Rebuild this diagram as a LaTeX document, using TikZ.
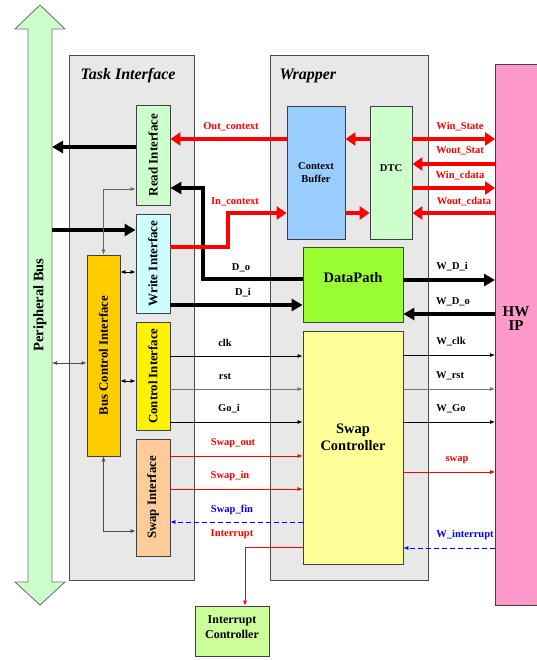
\documentclass[tikz,border=0pt]{standalone}
\usepackage{fontspec}
\setmainfont{Liberation Serif}
\usetikzlibrary{arrows.meta,calc}
\definecolor{cont}{HTML}{E8E8E8}
\definecolor{busg}{HTML}{CCFFCC}
\definecolor{hwpink}{HTML}{FF99CC}
\definecolor{cyanish}{HTML}{CCFFFF}
\definecolor{bcorange}{HTML}{FFCC00}
\definecolor{swapor}{HTML}{FFCC99}
\definecolor{cbblue}{HTML}{99CCFF}
\definecolor{dpgreen}{HTML}{99FF33}
\definecolor{scyellow}{HTML}{FFFF99}
\definecolor{icgreen}{HTML}{CCFF99}
\definecolor{redc}{HTML}{FF0000}
\definecolor{bluec}{HTML}{0000FF}
\begin{document}
\begin{tikzpicture}[x=1pt,y=-1pt,
  container/.style={draw=black!70,line width=0.9pt,fill=cont,anchor=north west,inner sep=0pt},
  blk/.style={draw=black!75,line width=0.9pt,inner sep=0pt,align=center,font=\bfseries},
  lab/.style={font=\fontsize{10.5}{12}\selectfont\bfseries},
  thk/.style={line width=3.6pt,-{Triangle[length=11pt,width=12pt]}},
  thkred/.style={draw=redc,line width=4.6pt,-{Triangle[length=10pt,width=13pt]}},
  thin/.style={line width=0.7pt,-{Latex[length=5pt,width=4pt]}},
  thinb/.style={line width=0.7pt,{Latex[length=5pt,width=4pt]}-{Latex[length=5pt,width=4pt]}},
]
\useasboundingbox (0,0) rectangle (536,660);
% containers
\node[container,minimum width=125,minimum height=525] (ti) at (69,55) {};
\node[container,minimum width=158,minimum height=525] (wr) at (270,55) {};
\node[anchor=west,font=\fontsize{16}{18}\selectfont\bfseries\itshape] (tit) at (77,76) {Task Interface};
\node[anchor=west,font=\fontsize{16}{18}\selectfont\bfseries\itshape] (wrt) at (276,76) {Wrapper};
% HW IP
\node[blk,fill=hwpink,anchor=north west,minimum width=46,minimum height=541] (hw) at (495,64) {};
\node[font=\fontsize{15}{16}\selectfont\bfseries,align=center] (hwt) at (516,319) {HW\\[-2pt]IP};
% peripheral bus
\draw[draw=black!55,line width=0.9pt,fill=busg]
  (40,5) -- (65,29) -- (52,29) -- (52,582) -- (65,582) -- (40,605) -- (15,582) -- (28,582) -- (28,29) -- (15,29) -- cycle;
\node[rotate=90,font=\fontsize{14.5}{16}\selectfont\bfseries] (bus) at (40,305) {Peripheral Bus};
\coordinate (busR) at (52,0);
% task interface blocks
\node[blk,fill=busg,minimum width=34,minimum height=100] (ri) at (153,155) {\rotatebox{90}{\fontsize{13}{14}\selectfont Read Interface}};
\node[blk,fill=cyanish,minimum width=34,minimum height=99] (wi) at (153,263.5) {\rotatebox{90}{\fontsize{13}{14}\selectfont Write Interface}};
\node[blk,fill=bcorange,minimum width=33,minimum height=201] (bci) at (103.5,355.5) {\rotatebox{90}{\fontsize{12.8}{14}\selectfont Bus Control Interface}};
\node[blk,fill=yellow,minimum width=34,minimum height=108] (ci) at (153,376) {\rotatebox{90}{\fontsize{12.8}{14}\selectfont Control Interface}};
\node[blk,fill=swapor,minimum width=34,minimum height=117] (si) at (153,497.5) {\rotatebox{90}{\fontsize{12.8}{14}\selectfont Swap Interface}};
% wrapper blocks
\node[blk,fill=cbblue,minimum width=58,minimum height=133,font=\fontsize{10.5}{12.5}\selectfont\bfseries] (cb) at (316,172.5) {Context\\Buffer};
\node[blk,fill=busg,minimum width=42,minimum height=133,font=\fontsize{10.5}{12}\selectfont\bfseries] (dtc) at (391,172.5) {};
\node[font=\fontsize{10.5}{12}\selectfont\bfseries] (dtct) at (391,168) {DTC};
\node[blk,fill=dpgreen,minimum width=100,minimum height=75] (dp) at (353,284.5) {};
\node[font=\fontsize{14.5}{16}\selectfont\bfseries] (dpt) at (353,278) {DataPath};
\node[blk,fill=scyellow,minimum width=100,minimum height=233] (sc) at (353,447.5) {};
\node[font=\fontsize{14.5}{17}\selectfont\bfseries,align=center] (sct) at (353,437) {Swap\\Controller};
\node[blk,fill=icgreen,minimum width=74,minimum height=50] (ic) at (232,631) {};
\node[font=\fontsize{12}{15}\selectfont\bfseries,align=center] (ict) at (232,627.5) {Interrupt\\Controller};
% thick black
\draw[thk] (ri.west |- 0,147) -- (busR |- 0,147);
\draw[thk] (busR |- 0,230) -- (wi.west |- 0,230);
\draw[thk] (dp.west |- 0,279) -- (203,279) -- (203,188) -- (ri.east |- 0,188);
\draw[thk] (wi.east |- 0,305) -- (dp.west |- 0,305);
\draw[thk] (dp.east |- 0,280) -- (hw.west |- 0,280);
\draw[thk] (hw.west |- 0,314) -- (dp.east |- 0,314);
% thick red
\draw[thkred] (cb.west |- 0,139) -- (ri.east |- 0,139);
\draw[thkred] (wi.east |- 0,247) -- (228,247) -- (228,213) -- (cb.west |- 0,213);
\draw[thkred] (dtc.west |- 0,139) -- (cb.east |- 0,139);
\draw[thkred] (cb.east |- 0,213) -- (dtc.west |- 0,213);
\draw[thkred] (dtc.east |- 0,139) -- (hw.west |- 0,139);
\draw[thkred] (hw.west |- 0,164) -- (dtc.east |- 0,164);
\draw[thkred] (dtc.east |- 0,188) -- (hw.west |- 0,188);
\draw[thkred] (hw.west |- 0,213) -- (dtc.east |- 0,213);
% thin bus control
\draw[thinb,draw=black!60] (bci.north) -- (bci.north |- 0,189) -- (ri.west |- 0,189);
\draw[thinb] (bci.east |- 0,272) -- (wi.west |- 0,272);
\draw[thinb,draw=black!70] (busR |- 0,363) -- (bci.west |- 0,363);
\draw[thinb] (bci.east |- 0,381) -- (ci.west |- 0,381);
\draw[thinb,draw=black!70] (bci.south) -- (bci.south |- 0,531) -- (si.west |- 0,531);
% control signals
\draw[thin] (ci.east |- 0,356) -- (sc.west |- 0,356);
\draw[thin,draw=black!55] (ci.east |- 0,389) -- (sc.west |- 0,389);
\draw[thin] (ci.east |- 0,422) -- (sc.west |- 0,422);
\draw[thin,draw=redc!80,color=redc] (si.east |- 0,456) -- (sc.west |- 0,456);
\draw[thin,draw=redc!55,color=redc] (si.east |- 0,489) -- (sc.west |- 0,489);
\draw[thin,draw=bluec,color=bluec,dashed,dash pattern=on 5pt off 3pt] (sc.west |- 0,522) -- (si.east |- 0,522);
\draw[thin,draw=redc!45,color=redc] (sc.west |- 0,547) -- (245,547) -- (ic.north -| 245,0);
\draw[line width=0.7pt,draw=redc] (sc.west |- 0,547) -- (245,547);
\draw[thin] (sc.east |- 0,355) -- (hw.west |- 0,355);
\draw[thin,draw=black!55] (sc.east |- 0,389) -- (hw.west |- 0,389);
\draw[thin] (sc.east |- 0,422) -- (hw.west |- 0,422);
\draw[thin,draw=redc!80,color=redc] (sc.east |- 0,472) -- (hw.west |- 0,472);
\draw[thin,draw=bluec,color=bluec,dashed,dash pattern=on 5pt off 3pt] (hw.west |- 0,548) -- (sc.east |- 0,548);
% labels
\node[lab,text=redc] (l1) at (231,127) {Out\_context};
\node[lab,text=redc] (l2) at (235,202) {In\_context};
\node[lab] (l3) at (241,268) {D\_o};
\node[lab] (l4) at (243,293) {D\_i};
\node[lab,text=redc] (l5) at (460,127) {Win\_State};
\node[lab,text=redc] (l6) at (460,151) {Wout\_Stat};
\node[lab,text=redc] (l7) at (460,176) {Win\_cdata};
\node[lab,text=redc] (l8) at (464,202) {Wout\_cdata};
\node[lab] (l9) at (452,267) {W\_D\_i};
\node[lab] (l10) at (453,302) {W\_D\_o};
\node[lab] (l11) at (225,343) {clk};
\node[lab] (l12) at (225,377) {rst};
\node[lab] (l13) at (229,409) {Go\_i};
\node[lab,text=redc] (l14) at (233,443) {Swap\_out};
\node[lab,text=redc] (l15) at (230,476) {Swap\_in};
\node[lab,text=bluec] (l16) at (232,510) {Swap\_fin};
\node[lab,text=redc] (l17) at (232,534) {Interrupt};
\node[lab] (l18) at (451,342) {W\_clk};
\node[lab] (l19) at (450,376) {W\_rst};
\node[lab] (l20) at (451,409) {W\_Go};
\node[lab,text=redc] (l21) at (457,460) {swap};
\node[lab,text=bluec] (l22) at (465,535) {W\_interrupt};
\end{tikzpicture}
\end{document}
